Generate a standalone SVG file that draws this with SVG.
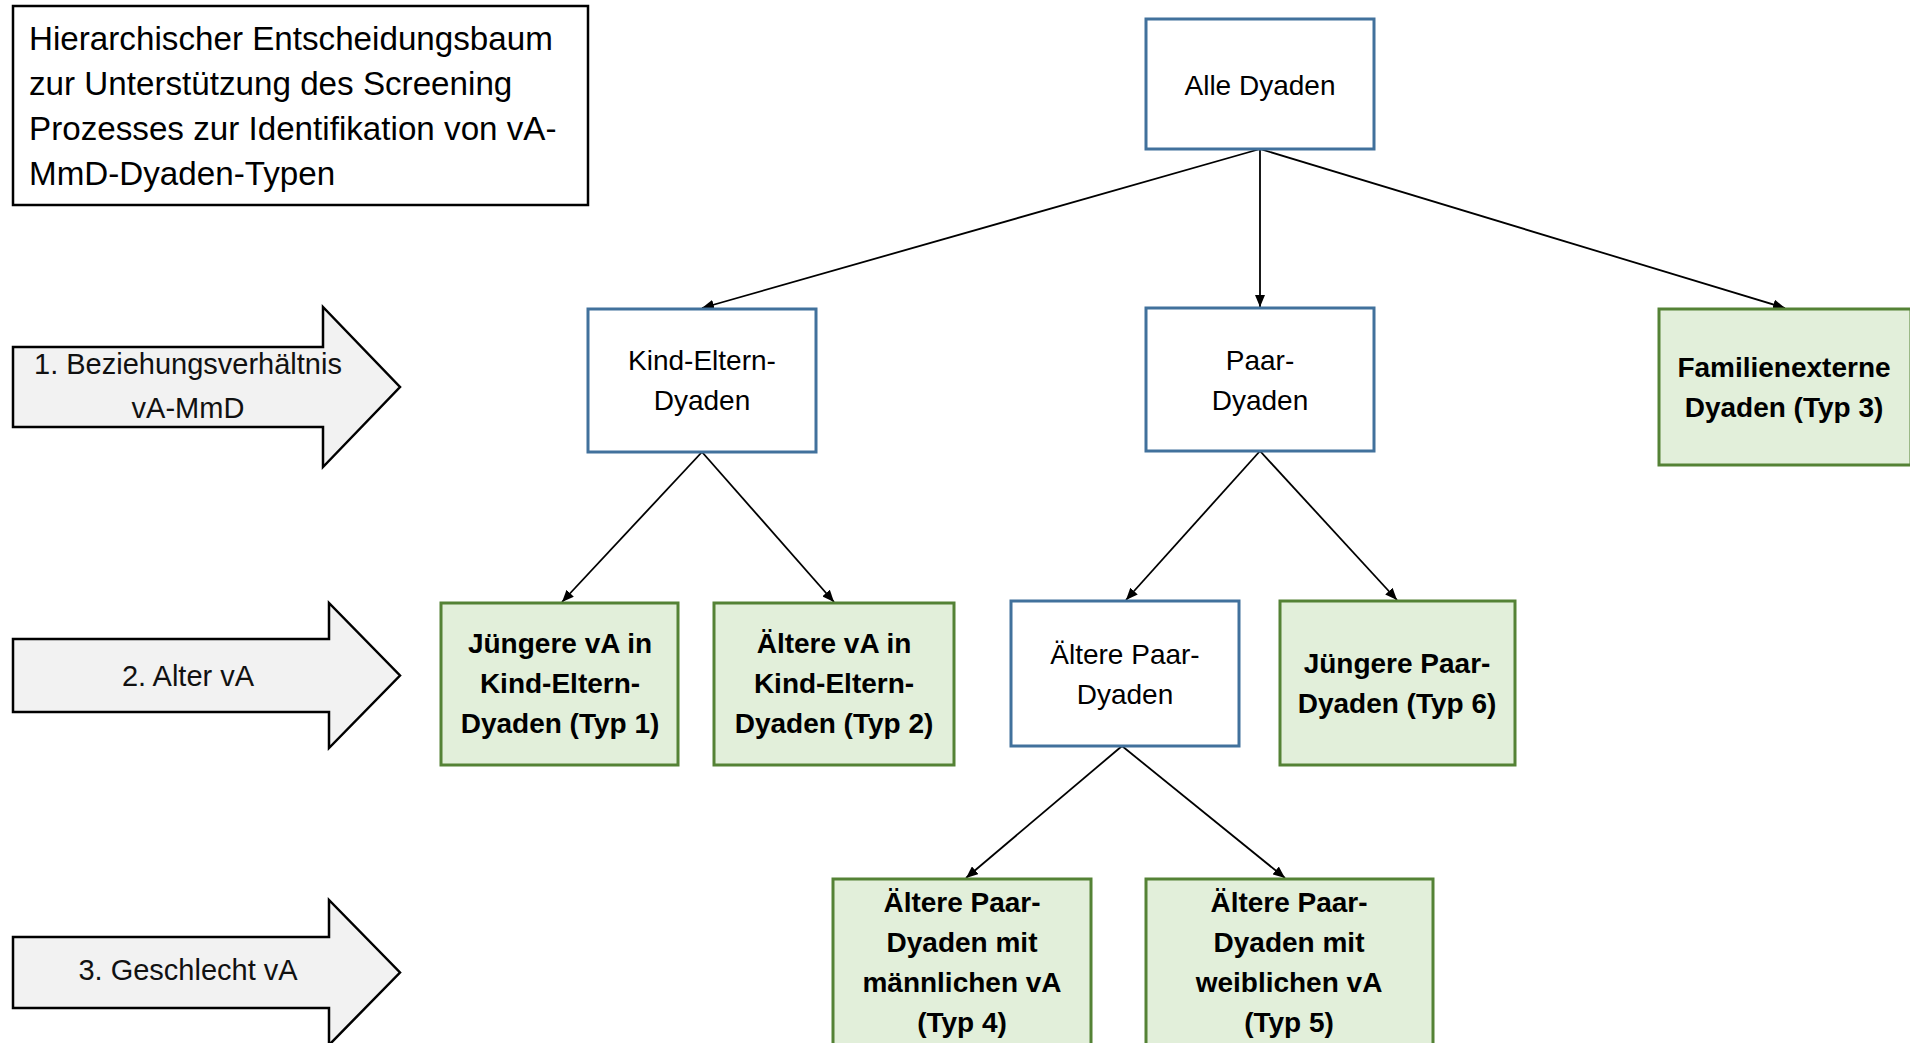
<svg xmlns="http://www.w3.org/2000/svg" width="1910" height="1043" viewBox="0 0 1910 1043">
<defs>
<style>
.t{font-family:"Liberation Sans",Arial,sans-serif;font-size:28px;fill:#000;text-anchor:middle}
.s{font-size:29px;fill:#111}
.b{font-weight:bold}
.title{font-family:"Liberation Sans",Arial,sans-serif;font-size:33.2px;fill:#000}
.blue{fill:#fff;stroke:#41719c;stroke-width:3}
.green{fill:#e2efda;stroke:#548235;stroke-width:3}
.step{fill:#f2f2f2;stroke:#000;stroke-width:2.5;stroke-linejoin:miter}
.c{stroke:#000;stroke-width:1.8;fill:none;marker-end:url(#ah)}
</style>
<marker id="ah" viewBox="0 0 12 10" refX="12" refY="5" markerWidth="12" markerHeight="10" markerUnits="userSpaceOnUse" orient="auto">
<path d="M0,0 L12,5 L0,10 z" fill="#000"/>
</marker>
</defs>
<rect width="1910" height="1043" fill="#fff"/>

<g id="title">
<rect x="13" y="6" width="575" height="199" fill="#fff" stroke="#000" stroke-width="2.5"/>
<text class="title" x="29" y="50">Hierarchischer Entscheidungsbaum</text>
<text class="title" x="29" y="95">zur Unterstützung des Screening</text>
<text class="title" x="29" y="140">Prozesses zur Identifikation von vA-</text>
<text class="title" x="29" y="185">MmD-Dyaden-Typen</text>
</g>

<g id="step1">
<path class="step" d="M13,347 L323,347 L323,307 L400,387 L323,467 L323,427 L13,427 Z"/>
<text class="t s" x="188" y="374">1. Beziehungsverhältnis</text>
<text class="t s" x="188" y="418">vA-MmD</text>
</g>
<g id="step2">
<path class="step" d="M13,639 L329,639 L329,603 L400,675.5 L329,748 L329,712 L13,712 Z"/>
<text class="t s" x="188" y="686">2. Alter vA</text>
</g>
<g id="step3">
<path class="step" d="M13,937 L329,937 L329,900 L400,972.5 L329,1045 L329,1008 L13,1008 Z"/>
<text class="t s" x="188" y="980">3. Geschlecht vA</text>
</g>

<g id="connectors">
<line class="c" x1="1260" y1="149" x2="702" y2="308"/>
<line class="c" x1="1260" y1="149" x2="1260" y2="307"/>
<line class="c" x1="1260" y1="149" x2="1785" y2="308"/>
<line class="c" x1="702" y1="452" x2="562" y2="602"/>
<line class="c" x1="702" y1="452" x2="834" y2="602"/>
<line class="c" x1="1260" y1="451" x2="1126" y2="600"/>
<line class="c" x1="1260" y1="451" x2="1397" y2="600"/>
<line class="c" x1="1122" y1="746" x2="966" y2="878"/>
<line class="c" x1="1122" y1="746" x2="1285" y2="878"/>
</g>

<g id="alle">
<rect class="blue" x="1146" y="19" width="228" height="130"/>
<text class="t" x="1260" y="95">Alle Dyaden</text>
</g>
<g id="kind-eltern">
<rect class="blue" x="588" y="309" width="228" height="143"/>
<text class="t" x="702" y="370">Kind-Eltern-</text>
<text class="t" x="702" y="410">Dyaden</text>
</g>
<g id="paar">
<rect class="blue" x="1146" y="308" width="228" height="143"/>
<text class="t" x="1260" y="370">Paar-</text>
<text class="t" x="1260" y="410">Dyaden</text>
</g>
<g id="familienextern">
<rect class="green" x="1659" y="309" width="252" height="156"/>
<text class="t b" x="1784" y="377">Familienexterne</text>
<text class="t b" x="1784" y="417">Dyaden (Typ 3)</text>
</g>
<g id="typ1">
<rect class="green" x="441" y="603" width="237" height="162"/>
<text class="t b" x="560" y="653">Jüngere vA in</text>
<text class="t b" x="560" y="693">Kind-Eltern-</text>
<text class="t b" x="560" y="733">Dyaden (Typ 1)</text>
</g>
<g id="typ2">
<rect class="green" x="714" y="603" width="240" height="162"/>
<text class="t b" x="834" y="653">Ältere vA in</text>
<text class="t b" x="834" y="693">Kind-Eltern-</text>
<text class="t b" x="834" y="733">Dyaden (Typ 2)</text>
</g>
<g id="aeltere-paar">
<rect class="blue" x="1011" y="601" width="228" height="145"/>
<text class="t" x="1125" y="664">Ältere Paar-</text>
<text class="t" x="1125" y="704">Dyaden</text>
</g>
<g id="typ6">
<rect class="green" x="1280" y="601" width="235" height="164"/>
<text class="t b" x="1397" y="673">Jüngere Paar-</text>
<text class="t b" x="1397" y="713">Dyaden (Typ 6)</text>
</g>
<g id="typ4">
<rect class="green" x="833" y="879" width="258" height="180"/>
<text class="t b" x="962" y="912">Ältere Paar-</text>
<text class="t b" x="962" y="952">Dyaden mit</text>
<text class="t b" x="962" y="992">männlichen vA</text>
<text class="t b" x="962" y="1032">(Typ 4)</text>
</g>
<g id="typ5">
<rect class="green" x="1146" y="879" width="287" height="180"/>
<text class="t b" x="1289" y="912">Ältere Paar-</text>
<text class="t b" x="1289" y="952">Dyaden mit</text>
<text class="t b" x="1289" y="992">weiblichen vA</text>
<text class="t b" x="1289" y="1032">(Typ 5)</text>
</g>
</svg>
